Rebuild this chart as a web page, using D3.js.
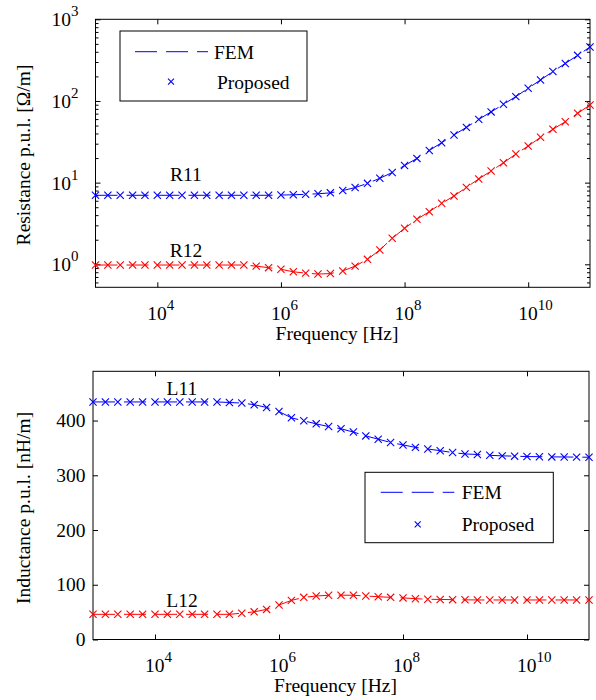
<!DOCTYPE html>
<html>
<head>
  <meta content="text/html;charset=utf-8" http-equiv="Content-Type">
  <title>d3.js: p.u.l. resistance and inductance</title>

  <style type="text/css">
    body { margin: 0; background: #fff; }
    svg text, svg tspan {
      font-family: "Liberation Serif", "Times New Roman", serif;
      font-size: 19.5px;
      fill: #000;
    }
    .axis line { stroke: #000; stroke-width: 1px; }
    .axis .domain { display: none; }
    .frame { fill: none; stroke: #000; stroke-width: 1px; }
    .fem { fill: none; stroke-width: 1px; stroke-dasharray: 22,9; }
    .mark { fill: none; stroke-width: 1.1px; }
  </style>

  <script src="https://cdnjs.cloudflare.com/ajax/libs/d3/7.6.1/d3.min.js"></script>
  <script>

    // frequency samples [Hz], 5 per decade
    var freq = [1e3, 1.585e3, 2.512e3, 3.981e3, 6.310e3,
                1e4, 1.585e4, 2.512e4, 3.981e4, 6.310e4,
                1e5, 1.585e5, 2.512e5, 3.981e5, 6.310e5,
                1e6, 1.585e6, 2.512e6, 3.981e6, 6.310e6,
                1e7, 1.585e7, 2.512e7, 3.981e7, 6.310e7,
                1e8, 1.585e8, 2.512e8, 3.981e8, 6.310e8,
                1e9, 1.585e9, 2.512e9, 3.981e9, 6.310e9,
                1e10, 1.585e10, 2.512e10, 3.981e10, 6.310e10,
                1e11];

    // resistance p.u.l. [Ohm/m]
    var r11 = [7.0, 7.0, 7.0, 7.0, 7.0, 7.0, 7.0, 7.0, 7.0, 7.0,
               7.0, 7.0, 7.0, 7.0, 7.0, 7.05, 7.1, 7.2, 7.3, 7.5,
               8.0, 8.7, 9.8, 11.3, 13.3, 16.2, 19.8, 24.8, 30.8, 38.4,
               47.5, 59.5, 73.5, 91, 113, 143, 181, 229, 288, 362,
               458];
    var r12 = [0.98, 0.98, 0.98, 0.98, 0.98, 0.98, 0.98, 0.98, 0.98, 0.98,
               0.98, 0.98, 0.98, 0.95, 0.91, 0.87, 0.81, 0.78, 0.76, 0.77,
               0.83, 0.95, 1.15, 1.5, 2.08, 2.76, 3.56, 4.41, 5.58, 6.86,
               8.75, 11.1, 13.9, 17.5, 22.4, 28.1, 35.9, 45, 55.7, 70.6,
               89.3];

    // inductance p.u.l. [nH/m]
    var l11 = [434, 434, 434, 434, 434, 434, 434, 434, 434, 434,
               434, 433, 432, 429, 424, 416.5, 405, 399.5, 394, 389,
               385, 379, 372, 366, 360, 355.5, 351, 348, 345, 341.5,
               339, 338, 336.5, 335.5, 335, 334.2, 334, 333.6, 333.5, 333.2,
               333];
    var l12 = [46, 46, 46, 46, 46, 46, 46, 46, 46, 46,
               46, 46, 48, 50.5, 55, 63, 71.5, 77, 79.5, 80.8,
               81, 80.8, 79.5, 78.2, 77, 76, 74.6, 73.5, 73.2, 72.8,
               72.5, 72.2, 72.2, 72.2, 72.2, 72.2, 72.2, 72.2, 72.2, 72.2,
               72.2];

    var freqTicks = [1e4, 1e6, 1e8, 1e10];
    var resTicks = [1, 10, 100, 1000];
    var indTicks = [0, 100, 200, 300, 400];

    var resNotes = [{t: 'R11', f: 2.9e4, v: 10.4}, {t: 'R12', f: 2.9e4, v: 1.22}];
    var indNotes = [{t: 'L11', f: 2.72e4, v: 447}, {t: 'L12', f: 2.72e4, v: 59}];

    var legendNames = ['FEM', 'Proposed'];

    function pow10Label(sel, v) {
      var e = Math.round(Math.log10(v));
      sel.append('tspan').text('10');
      sel.append('tspan').attr('dy', -10).style('font-size', '15px').text(e);
    }

    function drawLegend(svg, box) {
      var g = svg.append('g');
      g.append('rect').attr('x', box.x).attr('y', box.y)
        .attr('width', box.w).attr('height', box.h)
        .attr('fill', '#fff').attr('stroke', '#000').attr('stroke-width', 1);
      g.append('line').attr('class', 'fem')
        .attr('x1', box.lx1).attr('x2', box.lx2)
        .attr('y1', box.y1).attr('y2', box.y1).attr('stroke', '#00f');
      g.append('path').attr('class', 'mark').attr('stroke', '#00f')
        .attr('d', 'M-3,-3L3,3M-3,3L3,-3')
        .attr('transform', 'translate(' + box.mx + ',' + box.y2 + ')');
      g.append('text').attr('x', box.t1).attr('y', box.y1 + 7).text(legendNames[0]);
      g.append('text').attr('x', box.t2).attr('y', box.y2 + 7).text(legendNames[1]);
    }

    function drawPanel(svg, p) {
      var x = d3.scaleLog().domain([1e3, 1e11]).range([p.left, p.right]);
      var y = p.log ? d3.scaleLog().domain(p.ydom).range([p.bottom, p.top])
                    : d3.scaleLinear().domain(p.ydom).range([p.bottom, p.top]);

      // inward ticks on all four sides
      svg.append('g').attr('class', 'axis').attr('transform', 'translate(0,' + p.bottom + ')')
        .call(d3.axisBottom(x).tickValues(freqTicks).tickSize(-5).tickFormat(''));
      svg.append('g').attr('class', 'axis').attr('transform', 'translate(0,' + p.top + ')')
        .call(d3.axisTop(x).tickValues(freqTicks).tickSize(-5).tickFormat(''));
      svg.append('g').attr('class', 'axis').attr('transform', 'translate(' + p.left + ',0)')
        .call(d3.axisLeft(y).tickValues(p.yticks).tickSize(-5).tickFormat(''));
      svg.append('g').attr('class', 'axis').attr('transform', 'translate(' + p.right + ',0)')
        .call(d3.axisRight(y).tickValues(p.yticks).tickSize(-5).tickFormat(''));

      if (p.log) {
        var minor = [];
        for (var e = -1; e < 3; e++)
          for (var m = 2; m < 10; m++) {
            var v = m * Math.pow(10, e);
            if (v > p.ydom[0] && v < p.ydom[1]) minor.push(v);
          }
        svg.append('g').attr('class', 'axis').attr('transform', 'translate(' + p.left + ',0)')
          .call(d3.axisLeft(y).tickValues(minor).tickSize(-3).tickFormat(''));
        svg.append('g').attr('class', 'axis').attr('transform', 'translate(' + p.right + ',0)')
          .call(d3.axisRight(y).tickValues(minor).tickSize(-3).tickFormat(''));
      }

      svg.append('rect').attr('class', 'frame')
        .attr('x', p.left).attr('y', p.top)
        .attr('width', p.right - p.left).attr('height', p.bottom - p.top);

      // tick labels
      freqTicks.forEach(function(v) {
        var t = svg.append('text').attr('x', x(v) - 10).attr('y', p.bottom + p.tickDy);
        pow10Label(t, v);
      });
      p.yticks.forEach(function(v) {
        if (p.log) {
          var t = svg.append('text').attr('text-anchor', 'end')
            .attr('x', p.left - 17).attr('y', y(v) + 7);
          pow10Label(t, v);
        } else {
          svg.append('text').attr('text-anchor', 'end')
            .attr('x', p.left - 7.5).attr('y', y(v) + 6.7).text(v);
        }
      });

      // axis titles
      svg.append('text').attr('text-anchor', 'middle')
        .attr('x', p.xlabX).attr('y', p.bottom + p.xlabDy).text('Frequency [Hz]');
      svg.append('text').attr('text-anchor', 'middle')
        .attr('transform', 'translate(30,' + p.ylabY + ') rotate(-90)').text(p.ylabel);

      // curves
      var line = d3.line().x(function(d) { return x(d.f); }).y(function(d) { return y(d.v); });
      p.series.forEach(function(s) {
        var pts = freq.map(function(f, i) { return {f: f, v: s.vals[i]}; });
        svg.append('path').datum(pts).attr('class', 'fem')
          .attr('stroke', s.color).attr('d', line);
        svg.append('g').selectAll('path').data(pts).enter().append('path')
          .attr('class', 'mark').attr('stroke', s.color)
          .attr('d', 'M-3.6,-3.6L3.6,3.6M-3.6,3.6L3.6,-3.6')
          .attr('transform', function(d) { return 'translate(' + x(d.f) + ',' + y(d.v) + ')'; });
      });

      p.notes.forEach(function(n) {
        svg.append('text').attr('text-anchor', 'middle')
          .attr('x', x(n.f)).attr('y', y(n.v)).text(n.t);
      });

      drawLegend(svg, p.legend);
    }

    function main() {
      var svg = d3.select('#chart').attr('width', 596).attr('height', 700);

      drawPanel(svg, {
        left: 95.5, right: 590, top: 19.3, bottom: 287.3,
        log: true, ydom: [0.523, 1000], yticks: resTicks,
        ylabel: 'Resistance p.u.l. [\u03A9/m]', ylabY: 155,
        xlabX: 337, xlabDy: 53, tickDy: 33,
        series: [{vals: r11, color: '#0000ff'}, {vals: r12, color: '#ff0000'}],
        notes: resNotes,
        legend: {x: 120, y: 31, w: 187, h: 70, y1: 51.7, y2: 81.7,
                 lx1: 135, lx2: 208, mx: 171, t1: 214, t2: 217}
      });

      drawPanel(svg, {
        left: 93, right: 589, top: 371.3, bottom: 639.5,
        log: false, ydom: [0, 490], yticks: indTicks,
        ylabel: 'Inductance p.u.l. [nH/m]', ylabY: 508,
        xlabX: 335.5, xlabDy: 52, tickDy: 32,
        series: [{vals: l11, color: '#0000ff'}, {vals: l12, color: '#ff0000'}],
        notes: indNotes,
        legend: {x: 365, y: 472.3, w: 188.3, h: 70.4, y1: 492.3, y2: 524.3,
                 lx1: 380.7, lx2: 454.3, mx: 417.7, t1: 461.7, t2: 461.7}
      });
    }

  </script>
</head>
<body onload='main()'>

  <svg id="chart"></svg>

</body>
</html>
